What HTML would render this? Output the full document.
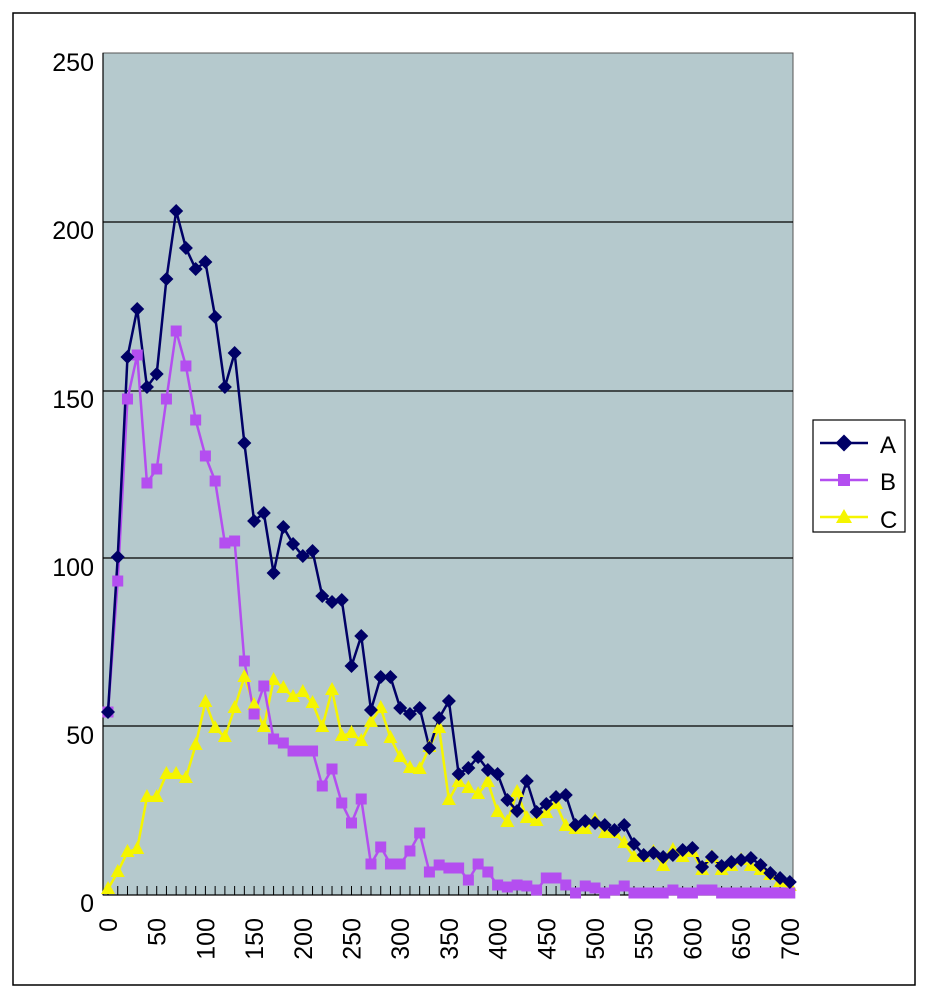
<!DOCTYPE html>
<html><head><meta charset="utf-8"><style>
html,body{margin:0;padding:0;background:#fff;}
svg text{font-family:"Liberation Sans",sans-serif;}
</style></head><body>
<svg id="s" width="929" height="1000" xmlns="http://www.w3.org/2000/svg">
<rect x="13" y="13" width="902" height="972" fill="#fff" stroke="#000" stroke-width="1.5"/>
<rect x="103" y="53" width="690" height="842" fill="#b5c9cd" stroke="#555" stroke-width="1"/>
<g stroke="#000" stroke-width="1.2">
<line x1="103" y1="222" x2="793" y2="222"/><line x1="103" y1="391" x2="793" y2="391"/>
<line x1="103" y1="558" x2="793" y2="558"/><line x1="103" y1="726" x2="793" y2="726"/>
<line x1="103" y1="53" x2="103" y2="895"/><line x1="103" y1="895" x2="793" y2="895"/>
</g>
<g font-size="25" text-anchor="end">
<text x="94" y="71">250</text><text x="94" y="239">200</text><text x="94" y="408">150</text>
<text x="94" y="576">100</text><text x="94" y="744">50</text><text x="94" y="912">0</text>
</g>
<g id="ticks" stroke="#000" stroke-width="1"></g>
<g id="xl" font-size="25" text-anchor="end"></g>
<g id="series"></g>
<rect x="813" y="420" width="92" height="112" fill="#fff" stroke="#000" stroke-width="1.2"/>
<line x1="820" y1="443" x2="868" y2="443" stroke="#000066" stroke-width="2.5"/>
<rect x="838" y="437" width="12" height="12" fill="#000066" transform="rotate(45 844 443)"/>
<text x="880" y="453" font-size="24">A</text>
<line x1="820" y1="480" x2="868" y2="480" stroke="#b44ef0" stroke-width="2.5"/>
<rect x="838" y="474" width="12" height="12" fill="#b44ef0"/>
<text x="880" y="490" font-size="24">B</text>
<line x1="820" y1="517" x2="868" y2="517" stroke="#f5f500" stroke-width="2.5"/>
<polygon points="844,509 852,523 836,523" fill="#f5f500"/>
<text x="880" y="528" font-size="24">C</text>
</svg>
<script>
var A=[712,557,357,309,387,374,279,211,248,269,262,317,387,353,443,521,513,573,527,544,556,551,596,602,600,666,636,710,677,677,708,714,708,748,718,701,774,768,757,770,774,800,811,781,812,804,797,795,825,821,823,825,830,825,844,855,853,857,855,850,848,867,857,866,862,860,858,865,873,878,882];
var B=[712,581,399,355,483,469,399,331,366,420,456,481,543,541,661,714,686,739,743,751,751,751,786,769,803,823,799,864,847,864,864,851,833,872,865,868,868,880,864,872,885,887,885,886,890,878,878,885,893,886,888,893,890,886,893,893,893,893,890,893,893,890,890,893,893,893,893,893,893,893,893];
var C=[889,872,852,849,797,797,774,774,778,745,702,728,737,708,677,705,727,680,688,697,692,703,727,690,736,733,741,722,708,738,757,768,769,747,728,800,782,788,794,782,812,822,792,818,821,813,804,826,829,829,820,833,833,843,857,857,852,866,850,857,852,870,857,870,866,860,866,870,875,882,886];
var NS="http://www.w3.org/2000/svg";
function X(i){return 108+i*9.74;}
function el(t,a,p){var e=document.createElementNS(NS,t);for(var k in a)e.setAttribute(k,a[k]);p.appendChild(e);return e;}
var tk=document.getElementById('ticks');
for(var i=0;i<=70;i++){el('line',{x1:X(i),y1:886,x2:X(i),y2:895},tk);}
var xl=document.getElementById('xl');
for(var i=0;i<=70;i+=5){var t=el('text',{x:0,y:0,transform:'translate('+(X(i)+9)+',918) rotate(-90)'},xl);t.textContent=String(i*10);}
var g=document.getElementById('series');
function line(d,c){el('polyline',{points:d.map(function(y,i){return X(i)+','+y}).join(' '),fill:'none',stroke:c,'stroke-width':2.5},g);}
line(C,'#f5f500');line(B,'#b44ef0');line(A,'#000066');
C.forEach(function(y,i){var x=X(i);el('polygon',{points:x+','+(y-8)+' '+(x+7)+','+(y+5)+' '+(x-7)+','+(y+5),fill:'#f5f500'},g);});
B.forEach(function(y,i){el('rect',{x:X(i)-5.5,y:y-5.5,width:11,height:11,fill:'#b44ef0'},g);});
A.forEach(function(y,i){var x=X(i);el('polygon',{points:x+','+(y-7)+' '+(x+7)+','+y+' '+x+','+(y+7)+' '+(x-7)+','+y,fill:'#000066'},g);});
</script>
</body></html>
